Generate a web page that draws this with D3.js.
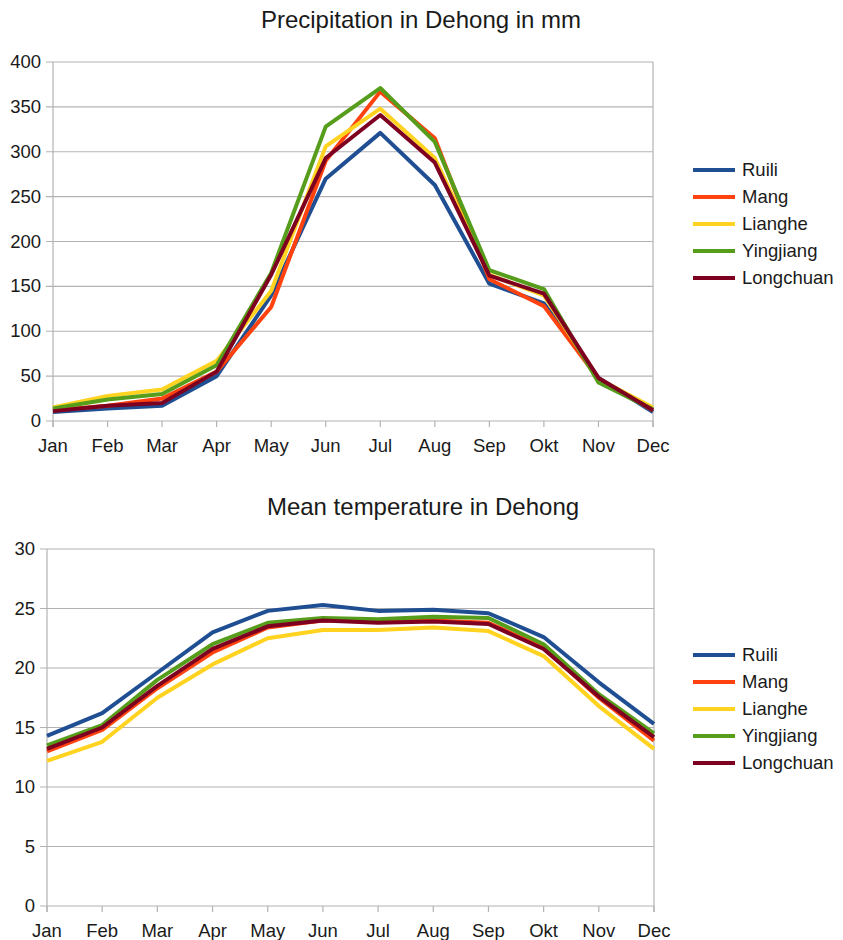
<!DOCTYPE html>
<html lang="en">
<head>
<meta charset="UTF-8">
<title>Dehong climate</title>
<script src="https://d3js.org/d3.v7.min.js"></script>
<style>
  body { margin: 0; background: #fff; }
  svg text { font-family: "Liberation Sans", Arial, sans-serif; fill: #1a1a1a; }
</style>
</head>
<body>
<svg id="chart" width="843" height="940"></svg>
<script>
// month labels (as in the original, German "Okt")
const months = ["Jan", "Feb", "Mar", "Apr", "May", "Jun", "Jul", "Aug", "Sep", "Okt", "Nov", "Dec"];
const stations = ["Ruili", "Mang", "Lianghe", "Yingjiang", "Longchuan"];
const colors = ["#1f4f92", "#ff420e", "#ffd320", "#579d1c", "#7e0021"];

// precipitation, mm
const precRuili     = [10, 14, 17, 50, 140, 270, 321, 263, 153, 131, 48, 10];
const precMang      = [12, 17, 25, 55, 127, 290, 367, 315, 158, 128, 47, 12];
const precLianghe   = [15, 28, 35, 67, 145, 306, 348, 293, 163, 140, 47, 15];
const precYingjiang = [14, 24, 30, 62, 165, 328, 371, 311, 168, 147, 43, 13];
const precLongchuan = [11, 17, 20, 55, 163, 293, 341, 288, 162, 142, 48, 12];

// mean temperature, °C
const tempRuili     = [14.3, 16.2, 19.6, 23.0, 24.8, 25.3, 24.8, 24.9, 24.6, 22.6, 18.8, 15.3];
const tempMang      = [13.0, 14.8, 18.3, 21.3, 23.4, 24.0, 23.9, 24.0, 23.8, 21.7, 17.5, 13.9];
const tempLianghe   = [12.2, 13.8, 17.5, 20.3, 22.5, 23.2, 23.2, 23.4, 23.1, 21.0, 16.8, 13.2];
const tempYingjiang = [13.5, 15.2, 19.0, 22.0, 23.8, 24.2, 24.1, 24.3, 24.2, 22.0, 17.8, 14.5];
const tempLongchuan = [13.2, 15.0, 18.5, 21.6, 23.5, 24.0, 23.8, 23.9, 23.7, 21.6, 17.6, 14.2];

const precTicks = [0, 50, 100, 150, 200, 250, 300, 350, 400];
const tempTicks = [0, 5, 10, 15, 20, 25, 30];

const svg = d3.select("#chart");

function drawChart(cfg) {
    const g = svg.append("g");
    const x = d3.scalePoint().domain(months).range([cfg.left, cfg.right]);
    const y = d3.scaleLinear().domain(cfg.domain).range([cfg.bottom, cfg.top]);

    // title
    g.append("text")
        .attr("x", cfg.titleX)
        .attr("y", cfg.titleY)
        .attr("text-anchor", "middle")
        .style("font-size", "24px")
        .text(cfg.title);

    // horizontal grid
    g.append("g").selectAll("line")
        .data(cfg.ticks)
        .enter().append("line")
        .attr("x1", cfg.left - 7)
        .attr("x2", cfg.right)
        .attr("y1", d => y(d))
        .attr("y2", d => y(d))
        .style("stroke", "#b3b3b3")
        .style("stroke-width", 1.2);

    // y axis line + right frame
    g.append("line")
        .attr("x1", cfg.left).attr("x2", cfg.left)
        .attr("y1", y(cfg.domain[1])).attr("y2", cfg.bottom + 6)
        .style("stroke", "#b3b3b3").style("stroke-width", 1.2);
    g.append("line")
        .attr("x1", cfg.right).attr("x2", cfg.right)
        .attr("y1", y(cfg.domain[1])).attr("y2", cfg.bottom + 6)
        .style("stroke", "#b3b3b3").style("stroke-width", 1.2);

    // x ticks
    g.append("g").selectAll("line")
        .data(months)
        .enter().append("line")
        .attr("x1", d => x(d)).attr("x2", d => x(d))
        .attr("y1", cfg.bottom).attr("y2", cfg.bottom + 6)
        .style("stroke", "#b3b3b3").style("stroke-width", 1.2);

    // y labels
    g.append("g").selectAll("text")
        .data(cfg.ticks)
        .enter().append("text")
        .attr("x", cfg.left - 12)
        .attr("y", d => y(d) + 6)
        .attr("text-anchor", "end")
        .style("font-size", "18.5px")
        .text(d => d);

    // x labels
    g.append("g").selectAll("text")
        .data(months)
        .enter().append("text")
        .attr("x", d => x(d))
        .attr("y", cfg.bottom + 31)
        .attr("text-anchor", "middle")
        .style("font-size", "18.5px")
        .text(d => d);

    // series lines
    const line = d3.line()
        .x((d, i) => x(months[i]))
        .y(d => y(d));

    g.append("g").selectAll("path")
        .data(cfg.series)
        .enter().append("path")
        .attr("d", d => line(d))
        .style("fill", "none")
        .style("stroke", (d, i) => colors[i])
        .style("stroke-width", 4)
        .style("stroke-linejoin", "round");

    // legend
    const legend = g.append("g")
        .attr("transform", "translate(" + cfg.legendX + "," + cfg.legendY + ")");
    legend.selectAll("line")
        .data(stations)
        .enter().append("line")
        .attr("x1", 0).attr("x2", 42)
        .attr("y1", (d, i) => i * 27).attr("y2", (d, i) => i * 27)
        .style("stroke", (d, i) => colors[i])
        .style("stroke-width", 4);
    legend.selectAll("text")
        .data(stations)
        .enter().append("text")
        .attr("x", 49)
        .attr("y", (d, i) => i * 27 + 6)
        .style("font-size", "18.5px")
        .text(d => d);
}

drawChart({
    title: "Precipitation in Dehong in mm",
    titleX: 421, titleY: 28,
    left: 53, right: 653, top: 62, bottom: 421,
    domain: [0, 400], ticks: precTicks,
    series: [precRuili, precMang, precLianghe, precYingjiang, precLongchuan],
    legendX: 693, legendY: 170
});

drawChart({
    title: "Mean temperature in Dehong",
    titleX: 423, titleY: 515,
    left: 47, right: 654, top: 549, bottom: 906,
    domain: [0, 30], ticks: tempTicks,
    series: [tempRuili, tempMang, tempLianghe, tempYingjiang, tempLongchuan],
    legendX: 693, legendY: 655
});
</script>
</body>
</html>
